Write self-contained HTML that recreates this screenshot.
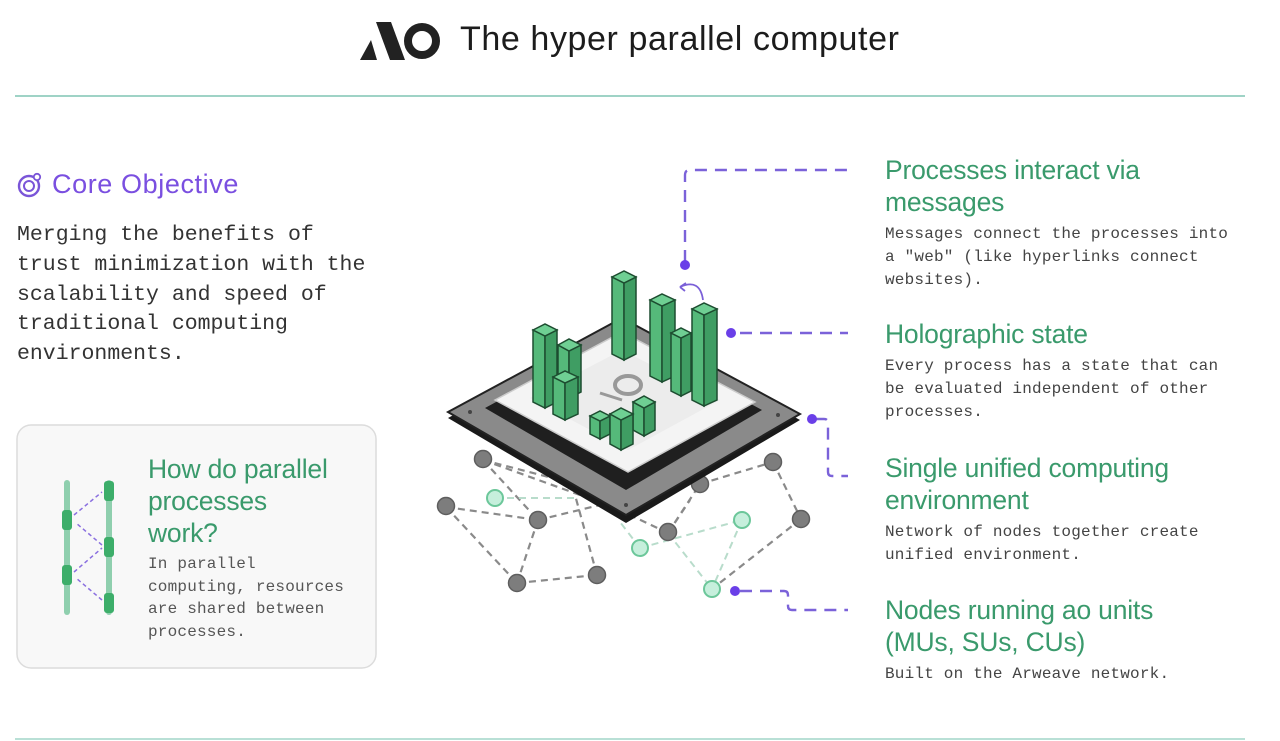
<!DOCTYPE html>
<html><head><meta charset="utf-8"><style>
html,body{margin:0;padding:0;background:#fff;}
body{width:1280px;height:741px;position:relative;overflow:hidden;font-family:"Liberation Sans",sans-serif;}
.a{position:absolute;white-space:nowrap;}
.h{color:#3a9a6c;font-size:26.5px;letter-spacing:-0.2px;line-height:32px;}
.m{font-family:"Liberation Mono",monospace;color:#444;font-size:16px;line-height:23px;letter-spacing:0.2px;}
</style></head><body>
<svg width="1280" height="741" style="position:absolute;left:0;top:0">
  <!-- logo -->
  <polygon points="360,60 371,40 377,60" fill="#222"/>
  <polygon points="376,22 391,22 405,60 390,60" fill="#222"/>
  <circle cx="422" cy="41" r="14" fill="none" stroke="#222" stroke-width="8"/>
  <line x1="15" y1="96" x2="1245" y2="96" stroke="#9fd3c6" stroke-width="2"/>
  <line x1="15" y1="739" x2="1245" y2="739" stroke="#b9e0d6" stroke-width="2"/>
  <!-- card -->
  <rect x="17" y="425" width="359" height="243" rx="14" fill="#f8f8f8" stroke="#dcdcdc" stroke-width="1.5"/>
  <!-- core objective icon -->
  <circle cx="29" cy="186" r="10" fill="none" stroke="#7a55d8" stroke-width="2.4"/>
  <circle cx="29" cy="186" r="5" fill="none" stroke="#7a55d8" stroke-width="2"/>
  <circle cx="37" cy="177" r="3.2" fill="#fff" stroke="#7a55d8" stroke-width="1.8"/>
  <!-- parallel process icon -->
  <rect x="64" y="480" width="6" height="135" rx="3" fill="#8fcfae"/>
  <rect x="106" y="480" width="6" height="135" rx="3" fill="#8fcfae"/>
  <rect x="62" y="510" width="10" height="20" rx="3" fill="#3dae6a"/>
  <rect x="62" y="565" width="10" height="20" rx="3" fill="#3dae6a"/>
  <rect x="104" y="481" width="10" height="20" rx="3" fill="#3dae6a"/>
  <rect x="104" y="537" width="10" height="20" rx="3" fill="#3dae6a"/>
  <rect x="104" y="593" width="10" height="20" rx="3" fill="#3dae6a"/>
  <g stroke="#8a6fe0" stroke-width="1.5" stroke-dasharray="4,3" fill="none">
    <line x1="74" y1="515" x2="102" y2="492"/><line x1="102" y1="545" x2="76" y2="523"/>
    <line x1="74" y1="572" x2="102" y2="548"/><line x1="102" y1="600" x2="76" y2="578"/>
  </g>
  <!-- network -->
  <g stroke="#8a8a8a" stroke-width="2.2" stroke-dasharray="7,5" fill="none">
    <line x1="483" y1="460" x2="538" y2="520"/><line x1="483" y1="460" x2="560" y2="480"/>
    <line x1="446" y1="507" x2="538" y2="520"/><line x1="446" y1="507" x2="517" y2="583"/>
    <line x1="538" y1="520" x2="517" y2="583"/><line x1="517" y1="583" x2="597" y2="575"/>
    <line x1="597" y1="575" x2="575" y2="495"/><line x1="538" y1="520" x2="600" y2="505"/>
    <line x1="483" y1="460" x2="580" y2="495"/>
    <line x1="668" y1="533" x2="700" y2="484"/><line x1="700" y1="484" x2="773" y2="462"/>
    <line x1="773" y1="462" x2="801" y2="519"/><line x1="801" y1="519" x2="712" y2="589"/>
    <line x1="668" y1="533" x2="630" y2="515"/><line x1="668" y1="533" x2="690" y2="500"/>
  </g>
  <g stroke="#b8dccb" stroke-width="2" stroke-dasharray="7,5" fill="none">
    <line x1="495" y1="498" x2="575" y2="498"/><line x1="640" y1="548" x2="620" y2="522"/>
    <line x1="668" y1="533" x2="712" y2="589"/><line x1="640" y1="548" x2="742" y2="520"/>
    <line x1="742" y1="520" x2="712" y2="589"/>
  </g>
  <g fill="#7d7d7d" stroke="#5e5e5e" stroke-width="1.5">
    <circle cx="483" cy="459" r="8.5"/><circle cx="446" cy="506" r="8.5"/><circle cx="538" cy="520" r="8.5"/>
    <circle cx="517" cy="583" r="8.5"/><circle cx="597" cy="575" r="8.5"/><circle cx="668" cy="532" r="8.5"/>
    <circle cx="700" cy="484" r="8.5"/><circle cx="773" cy="462" r="8.5"/><circle cx="801" cy="519" r="8.5"/>
  </g>
  <g fill="#c6efdc" stroke="#6cc79a" stroke-width="2">
    <circle cx="495" cy="498" r="8"/><circle cx="640" cy="548" r="8"/><circle cx="742" cy="520" r="8"/><circle cx="712" cy="589" r="8"/>
  </g>
  <!-- chip -->
  <polygon points="448,418 622,323 800,420 626,523" fill="#1a1a1a"/>
  <polygon points="448,412 622,318 800,414 626,515" fill="#8a8a8a" stroke="#222" stroke-width="2"/>
  <polygon points="485,408 622,334 762,410 626,490" fill="#1f1f1f"/>
  <polygon points="495,400 622,332 755,402 628,472" fill="#f4f4f4" stroke="#ccc" stroke-width="1.5"/>
  <polygon points="530,398 622,350 720,400 628,450" fill="#ececec"/>
  <g fill="#444">
    <circle cx="470" cy="412" r="2"/><circle cx="778" cy="415" r="2"/><circle cx="626" cy="505" r="2"/>
  </g>
  <path d="M600,393 L622,400" stroke="#999" stroke-width="3"/>
  <ellipse cx="628" cy="385" rx="13" ry="9" fill="none" stroke="#999" stroke-width="4"/>
  <!-- bars -->
  <g stroke="#1d4d30" stroke-width="1.5">
    <g><polygon points="533,330 545,336 545,408 533,402" fill="#55b97a"/><polygon points="545,336 557,330 557,402 545,408" fill="#3f9d63"/><polygon points="533,330 545,324 557,330 545,336" fill="#6fcf93"/></g>
    <g><polygon points="558,345 569,351 569,398 558,392" fill="#55b97a"/><polygon points="569,351 581,345 581,392 569,398" fill="#3f9d63"/><polygon points="558,345 569,339 581,345 569,351" fill="#6fcf93"/></g>
    <g><polygon points="553,377 565,383 565,420 553,414" fill="#55b97a"/><polygon points="565,383 578,377 578,414 565,420" fill="#3f9d63"/><polygon points="553,377 565,371 578,377 565,383" fill="#6fcf93"/></g>
    <g><polygon points="612,277 624,283 624,360 612,354" fill="#55b97a"/><polygon points="624,283 636,277 636,354 624,360" fill="#3f9d63"/><polygon points="612,277 624,271 636,277 624,283" fill="#6fcf93"/></g>
    <g><polygon points="650,300 662,306 662,382 650,376" fill="#55b97a"/><polygon points="662,306 675,300 675,376 662,382" fill="#3f9d63"/><polygon points="650,300 662,294 675,300 662,306" fill="#6fcf93"/></g>
    <g><polygon points="671,333 681,338 681,396 671,391" fill="#55b97a"/><polygon points="681,338 691,333 691,391 681,396" fill="#3f9d63"/><polygon points="671,333 681,328 691,333 681,338" fill="#6fcf93"/></g>
    <g><polygon points="692,309 704,315 704,406 692,400" fill="#55b97a"/><polygon points="704,315 717,309 717,400 704,406" fill="#3f9d63"/><polygon points="692,309 704,303 717,309 704,315" fill="#6fcf93"/></g>
    <g><polygon points="590,416 600,421 600,439 590,434" fill="#55b97a"/><polygon points="600,421 610,416 610,434 600,439" fill="#3f9d63"/><polygon points="590,416 600,411 610,416 600,421" fill="#6fcf93"/></g>
    <g><polygon points="633,402 644,408 644,436 633,430" fill="#55b97a"/><polygon points="644,408 655,402 655,430 644,436" fill="#3f9d63"/><polygon points="633,402 644,396 655,402 644,408" fill="#6fcf93"/></g>
    <g><polygon points="610,414 621,420 621,450 610,444" fill="#55b97a"/><polygon points="621,420 633,414 633,444 621,450" fill="#3f9d63"/><polygon points="610,414 621,408 633,414 621,420" fill="#6fcf93"/></g>
  </g>
  <path d="M703,300 Q700,278 680,287" fill="none" stroke="#7b60d8" stroke-width="1.8"/>
  <path d="M680,287 l6,-4 M680,287 l5,4" stroke="#7b60d8" stroke-width="1.8"/>
  <!-- connectors -->
  <g stroke="#7b62d9" stroke-width="2.4" stroke-dasharray="12,8" fill="none">
    <path d="M685,262 L685,175 Q685,170 690,170 L848,170"/>
    <path d="M740,333 L848,333"/>
    <path d="M815,419 L824,419 Q828,419 828,423 L828,472 Q828,476 832,476 L848,476"/>
    <path d="M740,591 L784,591 Q788,591 788,595 L788,606 Q788,610 792,610 L848,610"/>
  </g>
  <g fill="#6a3fe8"><circle cx="685" cy="265" r="5"/><circle cx="731" cy="333" r="5"/><circle cx="812" cy="419" r="5"/><circle cx="735" cy="591" r="5"/></g>
</svg>
<div class="a" style="left:460px;top:20px;font-size:34px;color:#1c1c1c;letter-spacing:0.6px">The hyper parallel computer</div>
<div class="a" style="left:52px;top:169px;font-size:27px;color:#7a4fe0;letter-spacing:0.6px">Core Objective</div>
<div class="a" style="left:17px;top:221px;font-family:'Liberation Mono',monospace;font-size:21.5px;line-height:29.8px;color:#333">Merging the benefits of<br>trust minimization with the<br>scalability and speed of<br>traditional computing<br>environments.</div>
<div class="a h" style="left:148px;top:453px;">How do parallel<br>processes<br>work?</div>
<div class="a m" style="left:148px;top:553px;line-height:22.7px;color:#555">In parallel<br>computing, resources<br>are shared between<br>processes.</div>
<div class="a h" style="left:885px;top:154px;">Processes interact via<br>messages</div>
<div class="a m" style="left:885px;top:223px;">Messages connect the processes into<br>a "web" (like hyperlinks connect<br>websites).</div>
<div class="a h" style="left:885px;top:318px;">Holographic state</div>
<div class="a m" style="left:885px;top:355px;">Every process has a state that can<br>be evaluated independent of other<br>processes.</div>
<div class="a h" style="left:885px;top:452px;">Single unified computing<br>environment</div>
<div class="a m" style="left:885px;top:521px;">Network of nodes together create<br>unified environment.</div>
<div class="a h" style="left:885px;top:594px;">Nodes running ao units<br>(MUs, SUs, CUs)</div>
<div class="a m" style="left:885px;top:663px;">Built on the Arweave network.</div>
</body></html>
